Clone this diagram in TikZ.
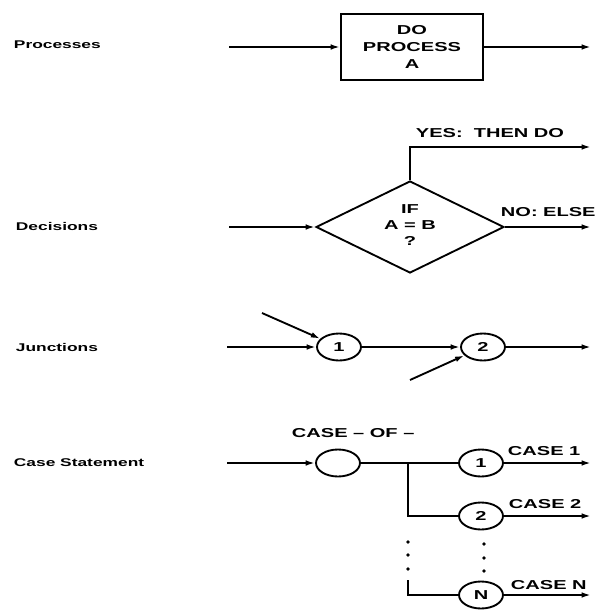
\documentclass[tikz,border=0pt]{standalone}
\usepackage{fontspec}
\usetikzlibrary{arrows.meta,shapes.geometric}
\newfontfamily\diagfont[FakeStretch=1.55]{Liberation Sans}
\newfontfamily\labfont[FakeStretch=1.55]{Liberation Sans}

\tikzset{every picture/.style={line width=1.4pt}}
\tikzset{
  flow/.style={-{Latex[length=7pt,width=4.2pt]}},
  txt/.style={font=\diagfont\bfseries\fontsize{9.7}{12.75}\selectfont, inner sep=0pt},
  lab/.style={font=\labfont\bfseries\fontsize{8.4}{10}\selectfont, inner sep=0pt, anchor=base west},
  junc/.style={ellipse, draw, txt, minimum width=33pt, minimum height=20.25pt, inner sep=0pt},
}

\begin{document}
\begin{tikzpicture}[x=0.75pt,y=0.75pt,yscale=-1,xscale=1]
\useasboundingbox (0,0) rectangle (600,611);

% Text Node
\node[lab] (lproc) at (13,48) {Processes};
\node[lab] (ldec) at (15,230) {Decisions};
\node[lab] (ljunc) at (15,351) {Junctions};
\node[lab] (lcase) at (13,466) {Case Statement};

%Shape: Rectangle
\node[draw, txt, align=center, minimum width=106.5pt, minimum height=49.5pt] (proc) at (412,47) {DO\\PROCESS\\A};
\coordinate (pin) at (229,47);
\coordinate (pout) at (591,47);
\draw[flow] (pin) -- (proc);
\draw[flow] (proc) -- (pout);

%Shape: Diamond
\node[diamond, draw, minimum width=141pt, minimum height=69pt, inner sep=0pt] (dec) at (410,227) {};
\node[txt, align=center, font=\diagfont\bfseries\fontsize{9.7}{12}\selectfont] (dect) at (410,225) {IF\\A = B\\?};
\coordinate (din) at (229,227);
\coordinate (dno) at (591,227);
\coordinate (dyes) at (591,147);
\draw[flow] (din) -- (dec.west);
\draw[flow] (dec.east) -- (dno);
\draw[flow] (dec.north) |- (dyes);
% Text Node
\node[txt, anchor=base west] (tyes) at (415,137) {YES:\ \ THEN DO};
\node[txt, anchor=base west] (tno) at (500,216) {NO:\ ELSE};

%Shape: Ellipse
\node[junc] (j1) at (339,347) {1};
\node[junc] (j2) at (483,347) {2};
\coordinate (jin) at (227,347);
\coordinate (jout) at (591,347);
\coordinate (ja) at (262,313);
\coordinate (jb) at (410,380);
\draw[flow] (jin) -- (j1);
\draw[flow] (j1) -- (j2);
\draw[flow] (j2) -- (jout);
\draw[flow] (ja) -- (j1);
\draw[flow] (jb) -- (j2);

%Shape: Ellipse
\node[junc] (cs) at (338,463) {};
\node[junc] (k1) at (481,463) {1};
\node[junc] (k2) at (481,516) {2};
\node[junc] (kn) at (481,595) {N};
\coordinate (cin) at (227,463);
\coordinate (br) at (408,463);
\coordinate (brn) at (408,580);
\draw[flow] (cin) -- (cs);
\draw (cs) -- (k1);
\draw (br) |- (k2);
\draw (brn) |- (kn);
\foreach \k/\y in {k1/463,k2/516,kn/595}
  \draw[flow] (\k) -- (591,\y);
\foreach \y in {542,555,569}
  \fill (408,\y) circle (1.8);
\foreach \y in {544,558,571}
  \fill (484,\y) circle (1.8);
% Text Node
\node[txt, anchor=base west] (tof) at (291,437.5) {CASE – OF –};
\node[txt, anchor=base west] (t1) at (507,455.5) {CASE 1};
\node[txt, anchor=base west] (t2) at (508,508.5) {CASE 2};
\node[txt, anchor=base west] (tn) at (510,589.5) {CASE N};

\end{tikzpicture}
\end{document}
